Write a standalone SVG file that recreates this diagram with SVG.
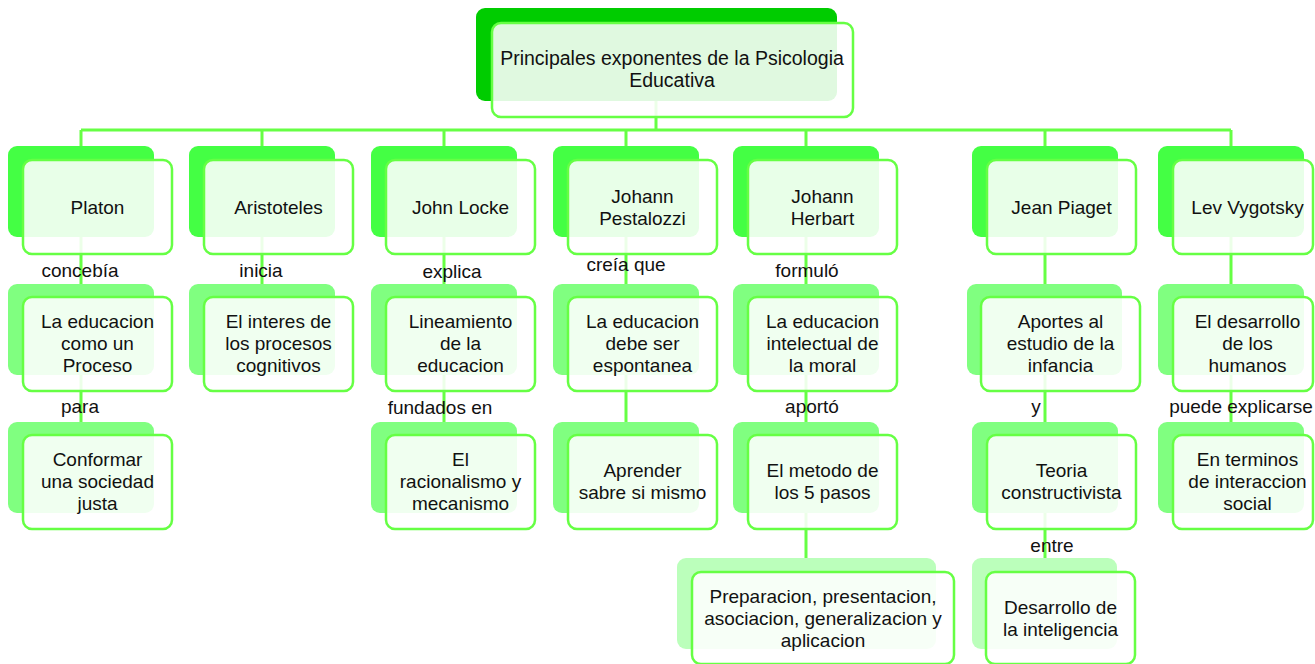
<svg xmlns="http://www.w3.org/2000/svg" width="1315" height="664" viewBox="0 0 1315 664">
<style>
  .bk0{fill:#00CC00}
  .bk1{fill:#44FF44}
  .bk2{fill:#80FF80}
  .bk4{fill:#BBFFBB}
  .fr{fill:#FFFFFF;fill-opacity:0.88;stroke:#66FF44;stroke-width:2.5}
  .t{font-family:"Liberation Sans",Arial,sans-serif;font-size:19px;fill:#111;text-anchor:middle}
  .top{font-size:19.5px}
  .lbl{font-family:"Liberation Sans",Arial,sans-serif;font-size:19px;fill:#111;text-anchor:middle}
  .c{stroke:#66FF44;stroke-width:3;fill:none}
</style>
<rect width="1315" height="664" fill="#FFFFFF"/>

<g id="connectors">
  <path class="c" d="M656,101 V130 M81,130 H1231"/>
  <path class="c" d="M81,130 V146 M262,130 V146 M444,130 V146 M626,130 V146 M806,130 V146 M1045,130 V146 M1231,130 V146"/>
  <path class="c" d="M81,237 V284 M262,237 V284 M444,237 V284 M626,237 V284 M806,237 V284 M1045,237 V284 M1231,237 V284"/>
  <path class="c" d="M81,375 V422 M444,375 V422 M626,375 V422 M806,375 V422 M1045,375 V422 M1231,375 V422"/>
  <path class="c" d="M806,513 V558 M1045,513 V558"/>
</g>

<g id="n-top">
  <rect class="bk0" x="476" y="8" width="361" height="93" rx="9"/>
  <rect class="fr" x="492" y="23" width="361" height="94" rx="9"/>
  <text class="t top"><tspan x="672" y="65">Principales exponentes de la Psicologia</tspan><tspan x="672" y="87">Educativa</tspan></text>
</g>

<g id="n-platon">
  <rect class="bk1" x="8" y="146" width="146" height="91" rx="9"/>
  <rect class="fr" x="23" y="160" width="149" height="94" rx="9"/>
  <text class="t" x="97.5" y="213.5">Platon</text>
</g>
<g id="n-aristoteles">
  <rect class="bk1" x="189" y="146" width="146" height="91" rx="9"/>
  <rect class="fr" x="204" y="160" width="149" height="94" rx="9"/>
  <text class="t" x="278.5" y="213.5">Aristoteles</text>
</g>
<g id="n-locke">
  <rect class="bk1" x="371" y="146" width="146" height="91" rx="9"/>
  <rect class="fr" x="386" y="160" width="149" height="94" rx="9"/>
  <text class="t" x="460.5" y="213.5">John Locke</text>
</g>
<g id="n-pestalozzi">
  <rect class="bk1" x="553" y="146" width="146" height="91" rx="9"/>
  <rect class="fr" x="568" y="160" width="149" height="94" rx="9"/>
  <text class="t"><tspan x="642.5" y="202.5">Johann</tspan><tspan x="642.5" y="224.5">Pestalozzi</tspan></text>
</g>
<g id="n-herbart">
  <rect class="bk1" x="733" y="146" width="146" height="91" rx="9"/>
  <rect class="fr" x="748" y="160" width="149" height="94" rx="9"/>
  <text class="t"><tspan x="822.5" y="202.5">Johann</tspan><tspan x="822.5" y="224.5">Herbart</tspan></text>
</g>
<g id="n-piaget">
  <rect class="bk1" x="972" y="146" width="146" height="91" rx="9"/>
  <rect class="fr" x="987" y="160" width="149" height="94" rx="9"/>
  <text class="t" x="1061.5" y="213.5">Jean Piaget</text>
</g>
<g id="n-vygotsky">
  <rect class="bk1" x="1158" y="146" width="146" height="91" rx="9"/>
  <rect class="fr" x="1173" y="160" width="140" height="94" rx="9"/>
  <text class="t" x="1247.5" y="213.5">Lev Vygotsky</text>
</g>

<g id="n-educacion-proceso">
  <rect class="bk2" x="8" y="284" width="146" height="91" rx="9"/>
  <rect class="fr" x="23" y="297" width="149" height="94" rx="9"/>
  <text class="t"><tspan x="97.5" y="328">La educacion</tspan><tspan x="97.5" y="350">como un</tspan><tspan x="97.5" y="372">Proceso</tspan></text>
</g>
<g id="n-interes">
  <rect class="bk2" x="189" y="284" width="146" height="91" rx="9"/>
  <rect class="fr" x="204" y="297" width="149" height="94" rx="9"/>
  <text class="t"><tspan x="278.5" y="328">El interes de</tspan><tspan x="278.5" y="350">los procesos</tspan><tspan x="278.5" y="372">cognitivos</tspan></text>
</g>
<g id="n-lineamiento">
  <rect class="bk2" x="371" y="284" width="146" height="91" rx="9"/>
  <rect class="fr" x="386" y="297" width="149" height="94" rx="9"/>
  <text class="t"><tspan x="460.5" y="328">Lineamiento</tspan><tspan x="460.5" y="350">de la</tspan><tspan x="460.5" y="372">educacion</tspan></text>
</g>
<g id="n-espontanea">
  <rect class="bk2" x="553" y="284" width="146" height="91" rx="9"/>
  <rect class="fr" x="568" y="297" width="149" height="94" rx="9"/>
  <text class="t"><tspan x="642.5" y="328">La educacion</tspan><tspan x="642.5" y="350">debe ser</tspan><tspan x="642.5" y="372">espontanea</tspan></text>
</g>
<g id="n-intelectual">
  <rect class="bk2" x="733" y="284" width="146" height="91" rx="9"/>
  <rect class="fr" x="748" y="297" width="149" height="94" rx="9"/>
  <text class="t"><tspan x="822.5" y="328">La educacion</tspan><tspan x="822.5" y="350">intelectual de</tspan><tspan x="822.5" y="372">la moral</tspan></text>
</g>
<g id="n-aportes">
  <rect class="bk2" x="967" y="284" width="155" height="91" rx="9"/>
  <rect class="fr" x="981" y="297" width="159" height="94" rx="9"/>
  <text class="t"><tspan x="1060.5" y="328">Aportes al</tspan><tspan x="1060.5" y="350">estudio de la</tspan><tspan x="1060.5" y="372">infancia</tspan></text>
</g>
<g id="n-desarrollo-humanos">
  <rect class="bk2" x="1158" y="284" width="146" height="91" rx="9"/>
  <rect class="fr" x="1173" y="297" width="140" height="94" rx="9"/>
  <text class="t"><tspan x="1247.5" y="328">El desarrollo</tspan><tspan x="1247.5" y="350">de los</tspan><tspan x="1247.5" y="372">humanos</tspan></text>
</g>

<g id="n-conformar">
  <rect class="bk2" x="8" y="422" width="146" height="91" rx="9"/>
  <rect class="fr" x="23" y="435" width="149" height="94" rx="9"/>
  <text class="t"><tspan x="97.5" y="466">Conformar</tspan><tspan x="97.5" y="488">una sociedad</tspan><tspan x="97.5" y="510">justa</tspan></text>
</g>
<g id="n-racionalismo">
  <rect class="bk2" x="371" y="422" width="146" height="91" rx="9"/>
  <rect class="fr" x="386" y="435" width="149" height="94" rx="9"/>
  <text class="t"><tspan x="460.5" y="466">El</tspan><tspan x="460.5" y="488">racionalismo y</tspan><tspan x="460.5" y="510">mecanismo</tspan></text>
</g>
<g id="n-aprender">
  <rect class="bk2" x="553" y="422" width="146" height="91" rx="9"/>
  <rect class="fr" x="568" y="435" width="149" height="94" rx="9"/>
  <text class="t"><tspan x="642.5" y="477">Aprender</tspan><tspan x="642.5" y="499">sabre si mismo</tspan></text>
</g>
<g id="n-metodo">
  <rect class="bk2" x="733" y="422" width="146" height="91" rx="9"/>
  <rect class="fr" x="748" y="435" width="149" height="94" rx="9"/>
  <text class="t"><tspan x="822.5" y="477">El metodo de</tspan><tspan x="822.5" y="499">los 5 pasos</tspan></text>
</g>
<g id="n-teoria">
  <rect class="bk2" x="972" y="422" width="146" height="91" rx="9"/>
  <rect class="fr" x="987" y="435" width="149" height="94" rx="9"/>
  <text class="t"><tspan x="1061.5" y="477">Teoria</tspan><tspan x="1061.5" y="499">constructivista</tspan></text>
</g>
<g id="n-interaccion">
  <rect class="bk2" x="1158" y="422" width="146" height="91" rx="9"/>
  <rect class="fr" x="1173" y="435" width="140" height="94" rx="9"/>
  <text class="t"><tspan x="1247.5" y="466">En terminos</tspan><tspan x="1247.5" y="488">de interaccion</tspan><tspan x="1247.5" y="510">social</tspan></text>
</g>

<g id="n-pasos">
  <rect class="bk4" x="677" y="558" width="259" height="91" rx="9"/>
  <rect class="fr" x="692" y="572" width="262" height="92" rx="9"/>
  <text class="t"><tspan x="823" y="603">Preparacion, presentacion,</tspan><tspan x="823" y="625">asociacion, generalizacion y</tspan><tspan x="823" y="647">aplicacion</tspan></text>
</g>
<g id="n-inteligencia">
  <rect class="bk4" x="972" y="558" width="145" height="91" rx="9"/>
  <rect class="fr" x="986" y="572" width="149" height="92" rx="9"/>
  <text class="t"><tspan x="1060.5" y="614">Desarrollo de</tspan><tspan x="1060.5" y="636">la inteligencia</tspan></text>
</g>

<g id="labels">
  <text class="lbl" x="80" y="277">concebía</text>
  <text class="lbl" x="261" y="277">inicia</text>
  <text class="lbl" x="452" y="278">explica</text>
  <text class="lbl" x="626" y="271">creía que</text>
  <text class="lbl" x="807" y="277">formuló</text>
  <text class="lbl" x="80" y="413">para</text>
  <text class="lbl" x="440" y="414">fundados en</text>
  <text class="lbl" x="812" y="413">aportó</text>
  <text class="lbl" x="1036" y="413">y</text>
  <text class="lbl" x="1241" y="413">puede explicarse</text>
  <text class="lbl" x="1052" y="552">entre</text>
</g>
</svg>
